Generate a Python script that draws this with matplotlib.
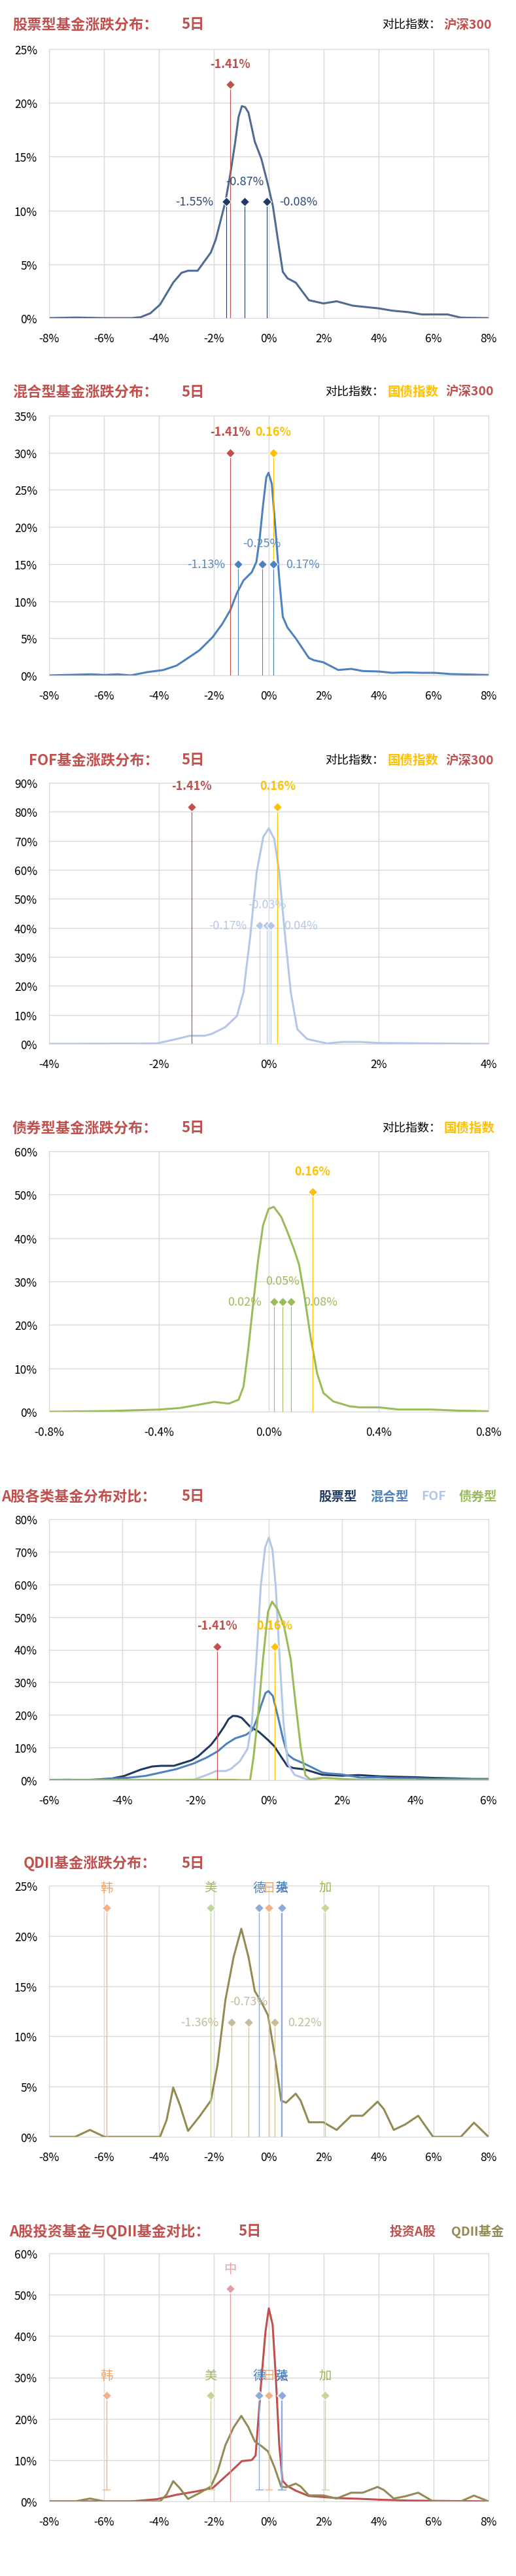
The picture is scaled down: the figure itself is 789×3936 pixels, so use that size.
import numpy as np
import matplotlib
matplotlib.use('Agg')
import matplotlib.pyplot as plt

plt.rcParams['font.family'] = ['Noto Sans CJK SC', 'DejaVu Sans']
plt.rcParams['axes.unicode_minus'] = False

# ---- data (x = 涨跌幅 %, y = 基金占比 %) ----
stock_x = [-8, -7, -6, -5, -4.67, -4.31, -3.96, -3.48, -3.18, -2.94, -2.59, -2.11, -1.93, -1.58, -1.40,
           -1.22, -1.10, -0.98, -0.86, -0.74, -0.51, -0.27, -0.03, 0.15, 0.33, 0.51, 0.68, 0.98, 1.46,
           1.99, 2.47, 3.06, 4.01, 4.49, 5.09, 5.56, 6.51, 6.99, 8]
stock_y = [0, 0.05, 0, 0, 0.08, 0.45, 1.25, 3.3, 4.2, 4.4, 4.4, 6.1, 7.3, 10.8, 13.4,
           16.4, 18.7, 19.7, 19.6, 19.1, 16.4, 14.8, 12.4, 10.4, 7.3, 4.3, 3.7, 3.3, 1.66,
           1.36, 1.56, 1.15, 0.9, 0.69, 0.55, 0.34, 0.34, 0.04, 0]

mixed_x = [-8, -6.45, -5.98, -5.5, -5.03, -4.43, -3.84, -3.36, -3.0, -2.53, -2.05, -1.70, -1.40, -1.16,
           -0.92, -0.62, -0.45, -0.33, -0.21, -0.09, -0.01, 0.11, 0.27, 0.39, 0.51, 0.68, 0.98, 1.46,
           1.64, 1.99, 2.53, 3.0, 3.42, 4.01, 4.49, 4.97, 5.56, 6.04, 6.63, 8]
mixed_y = [0, 0.15, 0.06, 0.15, 0, 0.44, 0.73, 1.32, 2.2, 3.37, 5.13, 6.9, 8.8, 11.1,
           12.8, 13.9, 15.3, 18.5, 22.9, 26.7, 27.3, 25.8, 18.5, 12.6, 7.9, 6.45, 5.0, 2.35,
           2.05, 1.76, 0.73, 0.88, 0.59, 0.53, 0.35, 0.41, 0.35, 0.35, 0.18, 0.06]

fof_x = [-4, -2.04, -1.68, -1.44, -1.17, -1.03, -0.79, -0.58, -0.46, -0.34, -0.22, -0.10, 0.0,
         0.10, 0.19, 0.28, 0.40, 0.52, 0.70, 1.06, 1.35, 1.65, 2.01, 4]
fof_y = [0, 0.15, 1.66, 2.8, 2.8, 3.5, 5.8, 9.6, 17.8, 36.7, 59.3, 71.3, 74.3,
         70.6, 59.3, 40.4, 17.8, 5.0, 1.66, 0.15, 0.68, 0.68, 0.3, 0]

bond_x = [-0.8, -0.586, -0.396, -0.324, -0.265, -0.199, -0.146, -0.110, -0.092, -0.074, -0.057, -0.039,
          -0.021, -0.001, 0.018, 0.045, 0.068, 0.092, 0.110, 0.128, 0.152, 0.176, 0.199, 0.235, 0.294,
          0.330, 0.401, 0.473, 0.592, 0.687, 0.8]
bond_y = [0, 0.15, 0.5, 0.85, 1.5, 2.26, 1.86, 2.76, 5.8, 14.8, 24.8, 34.9,
          42.9, 46.7, 47.2, 44.9, 41.4, 37.4, 33.9, 27.4, 17.3, 8.8, 4.3, 2.36, 1.25,
          1.0, 1.0, 0.5, 0.5, 0.25, 0.1]

# 债券型在对比图中的分布
bond5_x = [-6, -1.0, -0.74, -0.51, -0.42, -0.29, -0.16, -0.02, 0.09, 0.24, 0.42, 0.60, 0.73, 0.87,
           1.0, 1.14, 1.49, 2.03, 2.47, 6]
bond5_y = [0, 0.1, 0, 0, 6.8, 20.2, 36.9, 51.7, 54.7, 52.3, 47.0, 36.9, 23.6, 10.2,
           1.5, 0.1, 0.67, 0.33, 0, 0]

qdii_x = [-8, -7.05, -6.51, -5.98, -4.43, -3.96, -3.72, -3.48, -3.24, -2.94, -2.53, -2.11, -1.87, -1.58,
          -1.28, -1.0, -0.74, -0.51, -0.27, -0.03, 0.21, 0.45, 0.63, 0.98, 1.16, 1.46, 1.99, 2.47, 3.0,
          3.42, 3.96, 4.19, 4.55, 4.97, 5.44, 5.98, 6.99, 7.47, 8]
qdii_y = [0, 0, 0.69, 0, 0, 0, 1.67, 4.9, 3.2, 0.59, 2.0, 3.6, 7.1, 13.6,
          17.9, 20.7, 17.9, 14.5, 13.4, 12.1, 8.2, 3.6, 3.4, 4.3, 3.6, 1.45, 1.45, 0.69, 2.1,
          2.1, 3.5, 2.75, 0.69, 1.24, 2.1, 0, 0, 1.41, 0]

ashare_x = [-8, -5.03, -4.07, -3.36, -2.65, -2.05, -1.70, -1.40, -0.98, -0.62, -0.48, -0.39, -0.27, -0.12,
            0.0, 0.14, 0.26, 0.38, 0.50, 0.68, 0.98, 1.46, 1.99, 2.47, 3.30, 4.01, 5.09, 8]
ashare_y = [0, 0, 0.53, 1.6, 2.4, 3.2, 5.3, 7.1, 9.75, 10.0, 11.1, 19.0, 29.5, 41.1,
            46.7, 42.7, 29.5, 13.7, 5.0, 3.7, 2.6, 1.3, 1.05, 0.8, 0.63, 0.42, 0.2, 0]

hs300 = -1.41
bond_index = 0.16
stock_q = [-1.55, -0.87, -0.08]
mixed_q = [-1.13, -0.25, 0.17]
fof_q = [-0.17, -0.03, 0.04]
bond_q = [0.02, 0.05, 0.08]
qdii_q = [-1.36, -0.73, 0.22]

countries = ['韩', '美', '德', '日', '英', '法', '加']
country_ret = [-5.91, -2.11, -0.35, 0.0, 0.46, 0.48, 2.05]
china_ret = -1.41

# ---- colours ----
RED = '#c0504d'
GOLD = '#ffc000'
NAVY = '#1f3864'
C_STOCK = '#4f6b94'
C_MIXED = '#4f81bd'
C_FOF = '#b4c7e7'
C_BOND = '#9bbb59'
C_QDII = '#948a54'
C_QDII_Q = '#c4bd97'
country_mc = ['#f4b183', '#c4d79b', '#8eaadb', '#f4b183', '#8eaadb', '#8eaadb', '#c4d79b']
country_tc = ['#f4a460', '#9bbb59', '#4f81bd', '#f4a460', '#4f81bd', '#4f81bd', '#9bbb59']

W, H = 789, 3937
fig = plt.figure(figsize=(W / 100, H / 100), dpi=100)


def ftext(x, y, s, **kw):
    fig.text(x / W, 1 - y / H, s, va='center', **kw)


def make_ax(top, bottom, xticks, yticks, xfmt='{:g}%'):
    ax = fig.add_axes([75 / W, 1 - bottom / H, 672 / W, (bottom - top) / H])
    ax.set_xlim(xticks[0], xticks[-1])
    ax.set_ylim(yticks[0], yticks[-1])
    ax.set_xticks(xticks)
    ax.set_yticks(yticks)
    ax.set_xticklabels([xfmt.format(v) for v in xticks])
    ax.set_yticklabels(['{:g}%'.format(v) for v in yticks])
    ax.grid(True, color='#d9d9d9', lw=1)
    ax.set_axisbelow(True)
    for s in ax.spines.values():
        s.set_color('#d9d9d9')
    ax.tick_params(length=0, labelsize=12.5)
    ax.tick_params(axis='x', pad=16)
    ax.tick_params(axis='y', pad=13)
    return ax


def index_mark(ax, x, y, color, bottom=0):
    ax.plot([x, x], [bottom, y], color=color, lw=0.9, zorder=3)
    ax.plot(x, y, 'D', color=color, ms=7, mec='white', mew=0.8, zorder=4)
    ax.annotate('{:.2f}%'.format(x), (x, y), xytext=(0, 23), textcoords='offset points',
                ha='center', va='center', color=color, fontsize=13, fontweight='bold')


def quant_mark(ax, qs, y, mc, tc):
    for q in qs:
        ax.plot([q, q], [0, y], color=mc, lw=0.8, zorder=3)
    ax.plot(qs, [y] * len(qs), 'D', color=mc, ms=7, mec='white', mew=0.8, ls='none', zorder=4)
    lab = ['{:.2f}%'.format(q) for q in qs]
    ax.annotate(lab[0], (qs[0], y), xytext=(-14, 0), textcoords='offset points',
                ha='right', va='center', color=tc, fontsize=13)
    ax.annotate(lab[1], (qs[1], y), xytext=(0, 23), textcoords='offset points',
                ha='center', va='center', color=tc, fontsize=13)
    ax.annotate(lab[2], (qs[2], y), xytext=(14, 0), textcoords='offset points',
                ha='left', va='center', color=tc, fontsize=13)


def country_mark(ax, y, length, caps=False):
    for name, v, mc, tc in zip(countries, country_ret, country_mc, country_tc):
        ax.plot([v, v], [y - length, y], color=mc, lw=1, zorder=3)
        if caps:
            ax.plot([v - 0.13, v + 0.13], [y - length] * 2, color=mc, lw=1, zorder=3)
        ax.plot(v, y, 'D', color=mc, ms=7, mec='white', mew=0.8, zorder=4)
        ax.annotate(name, (v, y), xytext=(0, 22), textcoords='offset points',
                    ha='center', va='center', color=tc, fontsize=14)


def title(y, s, x, x5=277):
    ftext(x, y, s, color=RED, fontsize=16, fontweight='bold')
    ftext(x5, y, '5日', color=RED, fontsize=16, fontweight='bold')


x8 = [-8, -6, -4, -2, 0, 2, 4, 6, 8]

# 1 股票型
title(38, '股票型基金涨跌分布：', 19)
ftext(584, 38, '对比指数：', color='black', fontsize=13)
ftext(678, 38, '沪深300', color=RED, fontsize=14, fontweight='bold')
ax = make_ax(76, 487, x8, [0, 5, 10, 15, 20, 25])
ax.plot(stock_x, stock_y, color=C_STOCK, lw=2.2)
index_mark(ax, hs300, 21.7, RED)
quant_mark(ax, stock_q, 10.8, NAVY, '#2d4a75')

# 2 混合型
title(599, '混合型基金涨跌分布：', 19)
ftext(497, 599, '对比指数：', color='black', fontsize=13)
ftext(592, 599, '国债指数', color=GOLD, fontsize=14, fontweight='bold')
ftext(681, 599, '沪深300', color=RED, fontsize=14, fontweight='bold')
ax = make_ax(636, 1033, x8, [0, 5, 10, 15, 20, 25, 30, 35])
ax.plot(mixed_x, mixed_y, color=C_MIXED, lw=2.2)
index_mark(ax, hs300, 30.0, RED)
index_mark(ax, bond_index, 30.0, GOLD)
quant_mark(ax, mixed_q, 15.0, C_MIXED, '#5a8ac6')

# 3 FOF
title(1162, 'FOF基金涨跌分布：', 44)
ftext(497, 1162, '对比指数：', color='black', fontsize=13)
ftext(592, 1162, '国债指数', color=GOLD, fontsize=14, fontweight='bold')
ftext(681, 1162, '沪深300', color=RED, fontsize=14, fontweight='bold')
ax = make_ax(1197, 1596, [-4, -2, 0, 2, 4], list(range(0, 91, 10)))
ax.plot(fof_x, fof_y, color=C_FOF, lw=2.2)
index_mark(ax, hs300, 81.7, RED)
index_mark(ax, bond_index, 81.7, GOLD)
quant_mark(ax, fof_q, 40.8, C_FOF, C_FOF)

# 4 债券型
title(1724, '债券型基金涨跌分布：', 19)
ftext(584, 1724, '对比指数：', color='black', fontsize=13)
ftext(678, 1724, '国债指数', color=GOLD, fontsize=14, fontweight='bold')
ax = make_ax(1760, 2158, [-0.8, -0.4, 0.0, 0.4, 0.8], list(range(0, 61, 10)), xfmt='{:.1f}%')
ax.plot(bond_x, bond_y, color=C_BOND, lw=2.2)
index_mark(ax, bond_index, 50.6, GOLD)
quant_mark(ax, bond_q, 25.4, C_BOND, C_BOND)

# 5 各类对比
title(2287, 'A股各类基金分布对比：', 2.5)
ftext(487, 2287, '股票型', color=NAVY, fontsize=14, fontweight='bold')
ftext(566, 2287, '混合型', color=C_MIXED, fontsize=14, fontweight='bold')
ftext(644, 2287, 'FOF', color=C_FOF, fontsize=14, fontweight='bold')
ftext(702, 2287, '债券型', color=C_BOND, fontsize=14, fontweight='bold')
ax = make_ax(2322, 2721, [-6, -4, -2, 0, 2, 4, 6], list(range(0, 81, 10)))
ax.plot(stock_x, stock_y, color='#1f3a60', lw=2.2)
ax.plot(mixed_x, mixed_y, color=C_MIXED, lw=2.2)
ax.plot(fof_x, fof_y, color=C_FOF, lw=2.2)
ax.plot(bond5_x, bond5_y, color=C_BOND, lw=2.2)
index_mark(ax, hs300, 41.0, RED)
index_mark(ax, bond_index, 41.0, GOLD)

# 6 QDII
title(2847, 'QDII基金涨跌分布：', 36)
ax = make_ax(2882, 3266, x8, [0, 5, 10, 15, 20, 25])
ax.plot(qdii_x, qdii_y, color=C_QDII, lw=2.2)
country_mark(ax, 22.8, 22.8)
quant_mark(ax, qdii_q, 11.4, C_QDII_Q, C_QDII_Q)

# 7 A股 vs QDII
title(3410, 'A股投资基金与QDII基金对比：', 14, x5=364)
ftext(596, 3410, '投资A股', color=RED, fontsize=14, fontweight='bold')
ftext(690, 3410, 'QDII基金', color=C_QDII, fontsize=14, fontweight='bold')
ax = make_ax(3444, 3823, x8, list(range(0, 61, 10)))
ax.plot(ashare_x, ashare_y, color=RED, lw=2.2)
ax.plot(qdii_x, qdii_y, color=C_QDII, lw=2.2)
ax.plot([china_ret, china_ret], [0, 51.4], color='#e39ca0', lw=1, zorder=3)
ax.plot(china_ret, 51.4, 'D', color='#e39ca0', ms=7, mec='white', mew=0.8, zorder=4)
ax.annotate('中', (china_ret, 51.4), xytext=(0, 22), textcoords='offset points',
            ha='center', va='center', color='#e8a0a8', fontsize=14)
country_mark(ax, 25.6, 22.7, caps=True)

fig.savefig('out.png', dpi=100, facecolor='white')
